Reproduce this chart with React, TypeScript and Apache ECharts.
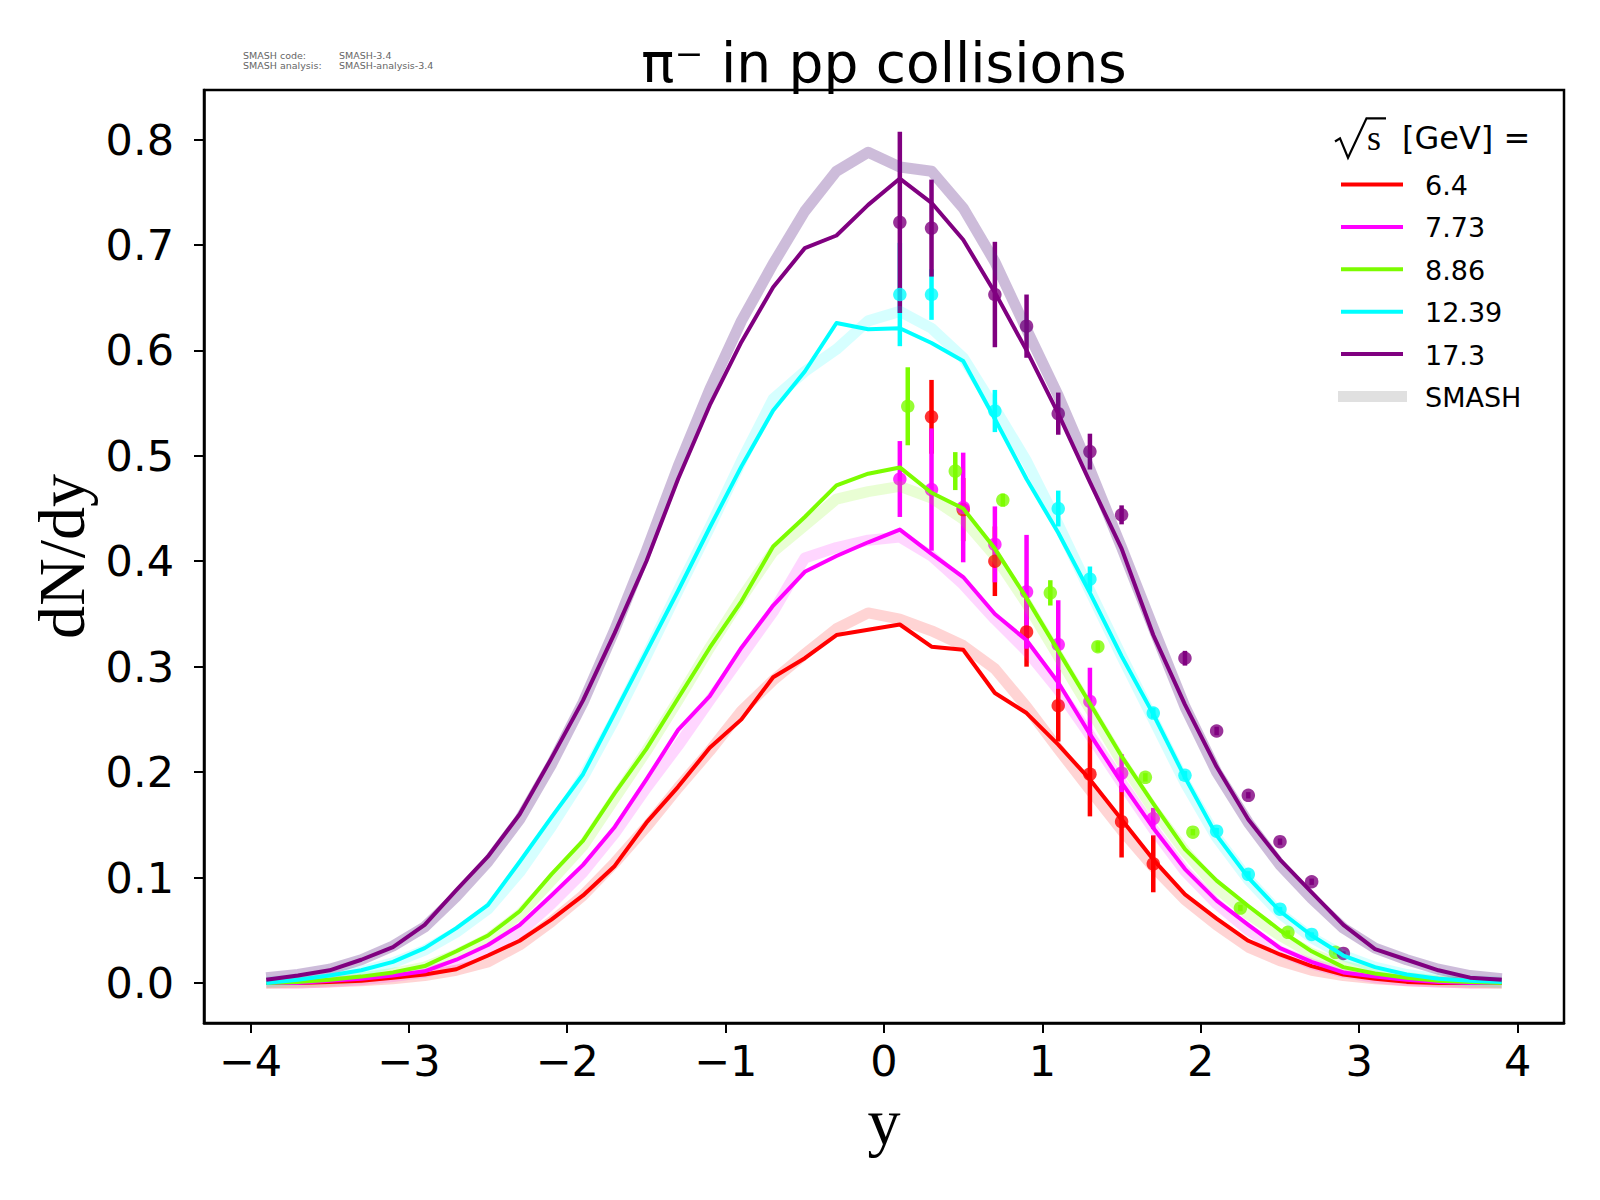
import React, { useEffect, useRef } from 'react';
import * as echarts from 'echarts';

// rapidity grid of the model curves
const rapidity = [-3.9, -3.7, -3.5, -3.3, -3.1, -2.9, -2.7, -2.5, -2.3, -2.1, -1.9, -1.7, -1.5, -1.3, -1.1, -0.9, -0.7, -0.5, -0.3, -0.1,
  0.1, 0.3, 0.5, 0.7, 0.9, 1.1, 1.3, 1.5, 1.7, 1.9, 2.1, 2.3, 2.5, 2.7, 2.9, 3.1, 3.3, 3.5, 3.7, 3.9];

const energies = ['6.4', '7.73', '8.86', '12.39', '17.3'];
const colors = ['#ff0000', '#ff00ff', '#7cfc00', '#00ffff', '#800080'];
const bandColors = ['rgba(255,0,0,0.17)', 'rgba(255,0,255,0.16)', 'rgba(124,252,0,0.17)', 'rgba(0,255,255,0.16)', 'rgba(88,32,132,0.3)'];

// thin curves
const line64 = [0, 0, 0.001, 0.002, 0.005, 0.008, 0.013, 0.026, 0.040, 0.060, 0.083, 0.111, 0.152, 0.186, 0.223, 0.250, 0.290, 0.308, 0.330, 0.335,
  0.340, 0.319, 0.316, 0.275, 0.256, 0.226, 0.193, 0.155, 0.117, 0.084, 0.061, 0.040, 0.027, 0.016, 0.008, 0.004, 0.001, 0, 0, 0];
const line773 = [0, 0, 0.002, 0.004, 0.007, 0.011, 0.022, 0.036, 0.055, 0.083, 0.112, 0.148, 0.193, 0.240, 0.272, 0.318, 0.358, 0.390, 0.405, 0.418,
  0.430, 0.407, 0.385, 0.350, 0.325, 0.285, 0.236, 0.190, 0.147, 0.108, 0.078, 0.055, 0.033, 0.020, 0.010, 0.006, 0.003, 0.001, 0, 0];
const line886 = [0, 0.001, 0.003, 0.006, 0.010, 0.016, 0.030, 0.045, 0.068, 0.103, 0.135, 0.180, 0.222, 0.270, 0.318, 0.362, 0.414, 0.442, 0.472, 0.483,
  0.489, 0.465, 0.450, 0.412, 0.365, 0.315, 0.265, 0.215, 0.170, 0.127, 0.097, 0.073, 0.050, 0.030, 0.015, 0.009, 0.005, 0.002, 0.001, 0];
const line1239 = [0, 0.003, 0.007, 0.012, 0.020, 0.033, 0.052, 0.074, 0.115, 0.157, 0.198, 0.256, 0.314, 0.372, 0.432, 0.490, 0.543, 0.580, 0.626, 0.620,
  0.621, 0.607, 0.590, 0.535, 0.478, 0.427, 0.370, 0.310, 0.255, 0.195, 0.140, 0.100, 0.068, 0.045, 0.026, 0.015, 0.008, 0.004, 0.002, 0.001];
const line173 = [0.003, 0.007, 0.012, 0.022, 0.034, 0.055, 0.088, 0.120, 0.160, 0.213, 0.268, 0.332, 0.400, 0.478, 0.548, 0.608, 0.660, 0.697, 0.709, 0.738,
  0.763, 0.740, 0.705, 0.655, 0.600, 0.540, 0.475, 0.412, 0.330, 0.264, 0.205, 0.155, 0.117, 0.086, 0.055, 0.032, 0.022, 0.012, 0.005, 0.003];

// SMASH bands
const band64 = [0, 0, 0.001, 0.002, 0.004, 0.007, 0.012, 0.020, 0.036, 0.058, 0.083, 0.114, 0.148, 0.185, 0.220, 0.258, 0.287, 0.312, 0.336, 0.351,
  0.345, 0.334, 0.320, 0.298, 0.262, 0.222, 0.183, 0.145, 0.110, 0.079, 0.055, 0.034, 0.021, 0.012, 0.007, 0.004, 0.002, 0.001, 0, 0];
const band773 = [0, 0, 0.001, 0.003, 0.006, 0.010, 0.018, 0.030, 0.048, 0.075, 0.105, 0.142, 0.185, 0.225, 0.268, 0.310, 0.352, 0.403, 0.413, 0.420,
  0.423, 0.405, 0.378, 0.345, 0.315, 0.278, 0.235, 0.190, 0.146, 0.106, 0.075, 0.050, 0.030, 0.018, 0.010, 0.005, 0.002, 0.001, 0, 0];
const band886 = [0, 0.001, 0.002, 0.005, 0.009, 0.015, 0.027, 0.042, 0.065, 0.097, 0.130, 0.175, 0.220, 0.268, 0.318, 0.365, 0.409, 0.434, 0.459, 0.466,
  0.471, 0.460, 0.440, 0.405, 0.360, 0.310, 0.260, 0.210, 0.165, 0.125, 0.090, 0.065, 0.045, 0.028, 0.016, 0.009, 0.005, 0.002, 0.001, 0];
const band1239 = [0.001, 0.003, 0.006, 0.011, 0.019, 0.031, 0.048, 0.070, 0.105, 0.148, 0.195, 0.250, 0.310, 0.372, 0.432, 0.495, 0.554, 0.580, 0.601, 0.628,
  0.637, 0.621, 0.593, 0.545, 0.495, 0.435, 0.372, 0.310, 0.250, 0.190, 0.138, 0.098, 0.066, 0.043, 0.026, 0.015, 0.008, 0.004, 0.002, 0.001];
const band173 = [0.005, 0.008, 0.013, 0.022, 0.035, 0.053, 0.082, 0.115, 0.155, 0.207, 0.266, 0.335, 0.410, 0.490, 0.563, 0.628, 0.682, 0.732, 0.770, 0.788,
  0.774, 0.770, 0.735, 0.684, 0.620, 0.557, 0.487, 0.413, 0.337, 0.262, 0.200, 0.152, 0.112, 0.080, 0.052, 0.033, 0.022, 0.013, 0.007, 0.004];

// experimental points
const dataX64 = [0.3, 0.5, 0.7, 0.9, 1.1, 1.3, 1.5, 1.7];
const dataY64 = [0.537, 0.449, 0.400, 0.333, 0.263, 0.198, 0.153, 0.113];
const dataE64 = [0.035, 0.030, 0.033, 0.033, 0.034, 0.040, 0.034, 0.027];

const dataX773 = [0.1, 0.3, 0.5, 0.7, 0.9, 1.1, 1.3, 1.5, 1.7];
const dataY773 = [0.478, 0.468, 0.451, 0.416, 0.371, 0.321, 0.267, 0.199, 0.156];
const dataE773 = [0.036, 0.058, 0.052, 0.036, 0.054, 0.042, 0.032, 0.018, 0.010];

const dataX886 = [0.15, 0.45, 0.75, 1.05, 1.35, 1.65, 1.95, 2.25, 2.55, 2.85];
const dataY886 = [0.547, 0.4855, 0.458, 0.370, 0.319, 0.195, 0.143, 0.071, 0.048, 0.029];
const dataE886 = [0.037, 0.018, 0.006, 0.012, 0.005, 0.004, 0.003, 0.003, 0.002, 0.002];

const dataX1239 = [0.1, 0.3, 0.7, 1.1, 1.3, 1.7, 1.9, 2.1, 2.3, 2.5, 2.7];
const dataY1239 = [0.653, 0.653, 0.5425, 0.450, 0.383, 0.256, 0.197, 0.144, 0.103, 0.070, 0.046];
const dataE1239 = [0.049, 0.024, 0.020, 0.017, 0.012, 0.005, 0.004, 0.003, 0.003, 0.002, 0.002];

const dataX173 = [0.1, 0.3, 0.7, 0.9, 1.1, 1.3, 1.5, 1.9, 2.1, 2.3, 2.5, 2.7, 2.9];
const dataY173 = [0.7215, 0.716, 0.653, 0.623, 0.540, 0.504, 0.444, 0.308, 0.239, 0.178, 0.134, 0.096, 0.028];
const dataE173 = [0.086, 0.046, 0.050, 0.030, 0.020, 0.017, 0.009, 0.007, 0.004, 0.003, 0.003, 0.003, 0.002];

const xTicks = [-4, -3, -2, -1, 0, 1, 2, 3, 4];
const yTicks = [0, 0.1, 0.2, 0.3, 0.4, 0.5, 0.6, 0.7, 0.8];

const lines = [line64, line773, line886, line1239, line173];
const bands = [band64, band773, band886, band1239, band173];
const dataX = [dataX64, dataX773, dataX886, dataX1239, dataX173];
const dataY = [dataY64, dataY773, dataY886, dataY1239, dataY173];
const dataE = [dataE64, dataE773, dataE886, dataE1239, dataE173];

const SANS = 'DejaVu Sans';
const SERIF = 'Liberation Serif';

export default function App() {
  const ref = useRef<HTMLDivElement>(null);
  useEffect(() => {
    if (!ref.current) return;
    const chart = echarts.init(ref.current, undefined, { renderer: 'svg' });
    const series: any[] = [];
    bands.forEach((b, i) => {
      series.push({
        type: 'line', name: 'SMASH', data: rapidity.map((x, k) => [x, b[k]]),
        symbol: 'none', showSymbol: false, silent: true,
        lineStyle: { color: bandColors[i], width: 11, join: 'round' },
      });
    });
    lines.forEach((l, i) => {
      series.push({
        type: 'line', name: energies[i], data: rapidity.map((x, k) => [x, l[k]]),
        symbol: 'none', showSymbol: false, silent: true,
        lineStyle: { color: colors[i], width: 4, join: 'round' },
      });
    });
    dataX.forEach((xs, i) => {
      series.push({
        type: 'custom', name: energies[i] + ' err', silent: true,
        data: xs.map((x, k) => [x, dataY[i][k], dataE[i][k]]),
        encode: { x: 0, y: 1 },
        renderItem: (params: any, api: any) => {
          const x = api.value(0), y = api.value(1), e = api.value(2);
          const p1 = api.coord([x, y - e]);
          const p2 = api.coord([x, y + e]);
          return { type: 'line', shape: { x1: p1[0], y1: p1[1], x2: p2[0], y2: p2[1] }, style: { stroke: colors[i], lineWidth: 4.5 } };
        },
      });
    });
    dataX.forEach((xs, i) => {
      series.push({
        type: 'scatter', name: energies[i] + ' data', silent: true,
        data: xs.map((x, k) => [x, dataY[i][k]]),
        symbol: 'circle', symbolSize: 13.5,
        itemStyle: { color: colors[i] },
      });
    });

    const legendTop = 184.5, legendStep = 42.4;
    const graphic: any[] = [
      { type: 'text', left: 243, top: 50, style: { text: 'SMASH code:', font: `9.5px "${SANS}"`, fill: '#666' } },
      { type: 'text', left: 339, top: 50, style: { text: 'SMASH-3.4', font: `9.5px "${SANS}"`, fill: '#666' } },
      { type: 'text', left: 243, top: 60, style: { text: 'SMASH analysis:', font: `9.5px "${SANS}"`, fill: '#666' } },
      { type: 'text', left: 339, top: 60, style: { text: 'SMASH-analysis-3.4', font: `9.5px "${SANS}"`, fill: '#666' } },
      { type: 'polyline', shape: { points: [[1335, 141.5], [1340, 138.3], [1348, 157.7], [1366.5, 118.3], [1386, 118.3]] }, style: { stroke: '#000', lineWidth: 2.2, fill: null } },
      { type: 'text', x: 1367, y: 138, style: { text: 's', font: `36px "${SERIF}"`, fill: '#000', verticalAlign: 'middle', align: 'left' } },
      { type: 'text', x: 1402, y: 138, style: { text: '[GeV] =', font: `32px "${SANS}"`, fill: '#000', verticalAlign: 'middle', align: 'left' } },
    ];
    energies.forEach((e, i) => {
      const y = legendTop + legendStep * i;
      graphic.push({ type: 'line', shape: { x1: 1341, y1: y, x2: 1403, y2: y }, style: { stroke: colors[i], lineWidth: 4 } });
      graphic.push({ type: 'text', x: 1425, y: y + 1, style: { text: e, font: `27px "${SANS}"`, fill: '#000', verticalAlign: 'middle', align: 'left' } });
    });
    const ys = legendTop + legendStep * 5;
    graphic.push({ type: 'rect', shape: { x: 1338, y: ys - 5.5, width: 69, height: 11 }, style: { fill: '#e0e0e0' } });
    graphic.push({ type: 'text', x: 1425, y: ys + 1, style: { text: 'SMASH', font: `27px "${SANS}"`, fill: '#000', verticalAlign: 'middle', align: 'left' } });

    chart.setOption({
      animation: false,
      backgroundColor: '#fff',
      title: {
        text: 'π⁻ in pp collisions', left: 879, top: 30, textAlign: 'center',
        textStyle: { fontFamily: SANS, fontSize: 55, fontWeight: 'normal', color: '#000' },
      },
      grid: { left: 204, right: 36, top: 90, bottom: 177, show: true, borderColor: '#000', borderWidth: 2.5, backgroundColor: 'transparent' },
      xAxis: {
        type: 'value', min: -4.293, max: 4.293,
        name: 'y', nameLocation: 'middle', nameGap: 65,
        nameTextStyle: { fontFamily: SERIF, fontSize: 66, color: '#000' },
        axisLine: { show: true, onZero: false, lineStyle: { color: '#000', width: 2.5 } },
        axisTick: { show: true, inside: false, length: 10, lineStyle: { color: '#000', width: 2 }, customValues: xTicks },
        axisLabel: {
          fontFamily: SANS, fontSize: 43, color: '#000', margin: 16, customValues: xTicks,
          formatter: (v: number) => (v < 0 ? '\u2212' + Math.abs(v) : String(v)),
        },
        splitLine: { show: false },
      },
      yAxis: {
        type: 'value', min: -0.038, max: 0.847,
        name: 'dN/dy', nameLocation: 'middle', nameGap: 103, nameRotate: 90,
        nameTextStyle: { fontFamily: SERIF, fontSize: 66, color: '#000' },
        axisLine: { show: true, onZero: false, lineStyle: { color: '#000', width: 2.5 } },
        axisTick: { show: true, inside: false, length: 10, lineStyle: { color: '#000', width: 2 }, customValues: yTicks },
        axisLabel: {
          fontFamily: SANS, fontSize: 43, color: '#000', margin: 30, customValues: yTicks,
          formatter: (v: number) => v.toFixed(1),
        },
        splitLine: { show: false },
      },
      graphic,
      series,
    });
    return () => chart.dispose();
  }, []);
  return <div ref={ref} style={{ position: 'absolute', left: 0, top: 0, width: 1600, height: 1200 }} />;
}
